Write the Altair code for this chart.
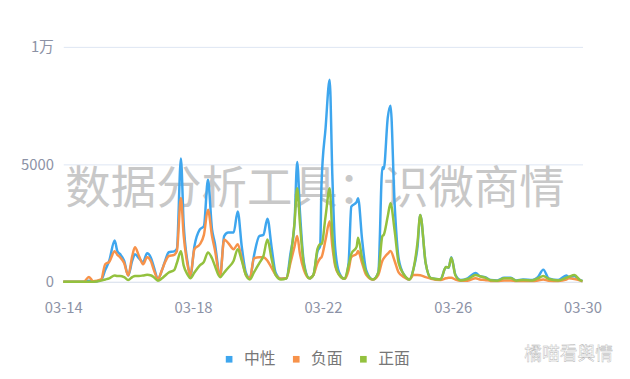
import altair as alt
import pandas as pd

# hours since 03-14 00:00
hours = [0, 15, 19, 22, 28, 31, 34, 38, 40, 42, 45, 48, 51, 53, 56, 59, 62, 65, 67, 70,
         73, 75, 78, 82, 84, 87, 89, 92, 94, 97, 101, 104, 107, 110, 112, 116, 119, 122, 126, 129,
         132, 135, 138, 141, 145, 148, 151, 154, 157, 161, 165, 168, 171, 173, 175, 178, 182, 185, 188, 190,
         191, 194, 197, 199, 201, 204, 208, 211, 213, 217, 218, 221, 224, 229, 233, 236, 237, 240, 242, 245,
         248, 252, 256, 259, 262, 264, 268, 272, 279, 283, 285, 287, 290, 294, 299, 305, 308, 312, 316, 321,
         326, 331, 335, 340, 347, 351, 355, 359, 366, 372, 374, 378, 382, 384]

neutral = [0, 0, 50, 0, 80, 500, 900, 1760, 1300, 1180, 900, 270, 900, 1180, 1000, 840, 1220, 1000, 630, 130,
           500, 840, 1260, 1300, 1400, 5250, 2500, 800, 260, 1520, 2230, 2370, 4350, 2230, 1680, 260, 1950, 2100, 2100, 3000,
           1500, 400, 150, 1100, 1950, 2000, 2690, 1500, 400, 130, 150, 1200, 2500, 5100, 3000, 800, 150, 300, 1300, 1520,
           4200, 6560, 8600, 4500, 1500, 400, 130, 800, 3200, 3400, 3560, 1800, 500, 100, 400, 4880, 4800, 7000, 7500, 3360,
           1000, 300, 100, 550, 1500, 2850, 800, 150, 100, 630, 600, 1050, 300, 80, 150, 380, 240, 200, 80, 60,
           170, 170, 60, 100, 80, 200, 520, 150, 80, 270, 200, 250, 80, 40]

negative = [0, 0, 210, 30, 100, 750, 850, 1300, 1150, 1050, 800, 270, 1100, 1470, 1100, 750, 1050, 850, 500, 130,
            500, 800, 1100, 1150, 1300, 3570, 2000, 700, 260, 1390, 1600, 2000, 3070, 1950, 1400, 260, 1800, 1650, 1390, 1600,
            1000, 300, 150, 1000, 1050, 1050, 900, 600, 300, 130, 150, 800, 1500, 1950, 1200, 500, 150, 300, 800, 1000,
            1050, 1800, 2580, 1500, 700, 300, 130, 500, 1050, 1200, 1310, 800, 300, 100, 300, 900, 1000, 1200, 1310, 900,
            400, 200, 100, 290, 290, 280, 200, 130, 80, 150, 170, 170, 100, 50, 50, 150, 100, 80, 40, 30,
            60, 60, 30, 30, 30, 60, 100, 50, 40, 100, 150, 120, 60, 20]

positive = [0, 0, 0, 0, 50, 100, 150, 270, 250, 250, 200, 80, 200, 250, 250, 270, 300, 270, 200, 50,
            150, 250, 400, 500, 800, 1300, 700, 300, 150, 400, 700, 850, 1250, 1000, 700, 200, 400, 600, 900, 1390,
            900, 300, 100, 400, 800, 1100, 1800, 1000, 300, 100, 150, 1000, 2500, 3980, 2500, 700, 150, 300, 1400, 1600,
            1600, 2800, 3980, 2000, 800, 300, 130, 700, 1180, 1500, 1880, 1000, 400, 100, 400, 1950, 2000, 2800, 3350, 2200,
            800, 300, 100, 550, 1700, 2850, 800, 150, 100, 630, 610, 1030, 270, 60, 120, 290, 240, 180, 70, 50,
            150, 150, 50, 80, 60, 150, 250, 120, 60, 180, 220, 290, 80, 30]

series_names = ["中性", "负面", "正面"]
series_colors = ["#3ea6ee", "#f7924a", "#93c13e"]
x_ticks = [14, 18, 22, 26, 30]

start = pd.Timestamp("2024-03-14 00:00")
times = [(start + pd.Timedelta(hours=h)).strftime("%Y-%m-%dT%H:%M:%S") for h in hours]
rows = []
for name, vals in zip(series_names, [neutral, negative, positive]):
    for t, v in zip(times, vals):
        rows.append({"time": t, "value": v, "series": name})
df = pd.DataFrame(rows)

FONT = "Noto Sans CJK SC"
color_scale = alt.Scale(domain=series_names, range=series_colors)

x_enc = alt.X("time:T", title=None,
              scale=alt.Scale(domain=[alt.DateTime(year=2024, month=3, date=14),
                                      alt.DateTime(year=2024, month=3, date=30)]),
              axis=alt.Axis(values=[alt.DateTime(year=2024, month=3, date=d) for d in x_ticks],
                            format="%m-%d", labelColor="#8c92a6", labelFontSize=15, labelFont=FONT,
                            ticks=False, domainColor="#dde3ee", grid=False, labelPadding=19,
                            labelFlush=False))
y_enc = alt.Y("value:Q", title=None,
              scale=alt.Scale(domain=[0, 10000]),
              axis=alt.Axis(values=[0, 5000, 10000],
                            labelExpr="datum.value == 10000 ? '1万' : datum.value",
                            labelColor="#8c92a6", labelFontSize=15, labelFont=FONT,
                            ticks=False, domain=False, gridColor="#dde6f3", labelPadding=10))

watermark = alt.Chart(pd.DataFrame({"t": ["数据分析工具：识微商情"]})).mark_text(
    font=FONT, fontSize=46, color="#c8c8c8", align="center", baseline="middle"
).encode(x=alt.value(255), y=alt.value(145), text="t:N")

layers = [watermark]
for name in series_names:
    layers.append(
        alt.Chart(df).transform_filter(alt.datum.series == name).mark_line(
            strokeWidth=2.5, interpolate="monotone"
        ).encode(
            x=x_enc, y=y_enc,
            color=alt.Color("series:N", scale=color_scale, sort=series_names,
                            legend=alt.Legend(title=None, orient="none", legendX=160, legendY=308,
                                              direction="horizontal", symbolType="square",
                                              symbolSize=5, symbolStrokeWidth=4.5,
                                              labelFont=FONT, labelFontSize=16, labelColor="#777777",
                                              columnPadding=9, labelOffset=7))
        )
    )

brand = alt.Chart(pd.DataFrame({"t": ["橘喵看舆情"]})).mark_text(
    font=FONT, fontSize=18, color="#ffffff", stroke="#b4b4b4", strokeWidth=0.4,
    align="center", baseline="middle"
).encode(x=alt.value(512), y=alt.value(312), text="t:N")
layers.append(brand)

chart = alt.layer(*layers).properties(
    width=526, height=238,
    autosize=alt.AutoSizeParams(type="none"),
    padding={"left": 56, "top": 37, "right": 40, "bottom": 95},
).configure(background="#ffffff").configure_view(stroke=None)

chart.save("out.html", embed_options={"renderer": "svg", "actions": False})
